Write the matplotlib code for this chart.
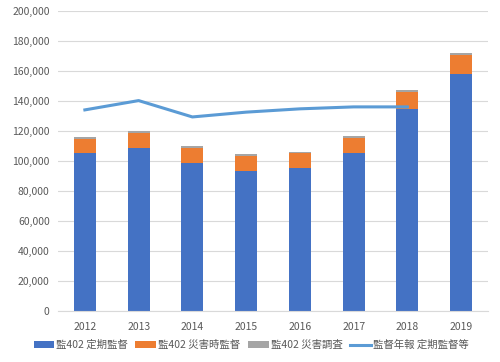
import matplotlib
matplotlib.use("Agg")
import matplotlib.pyplot as plt
import numpy as np

plt.rcParams['font.family'] = ['Noto Sans CJK JP', 'DejaVu Sans']

years = ['2012', '2013', '2014', '2015', '2016', '2017', '2018', '2019']
teiki = [105000, 108500, 98500, 93500, 95300, 105000, 134500, 158200]
saigai_ji = [9500, 10200, 10000, 9500, 9800, 10500, 11500, 12200]
saigai_chosa = [1500, 1300, 1500, 1500, 1100, 1400, 1500, 1400]
nenpo = [134000, 140200, 129300, 132500, 134700, 136000, 136000, None]

fig = plt.figure(figsize=(5.0, 3.62), dpi=100)
ax = fig.add_axes([0.116, 0.141, 0.86, 0.829])

x = np.arange(len(years))
w = 0.41
t = np.array(teiki)
s1 = np.array(saigai_ji)
s2 = np.array(saigai_chosa)
h1 = ax.bar(x, t, w, color='#4472C4', label='監402 定期監督', zorder=2)
h2 = ax.bar(x, s1, w, bottom=t, color='#ED7D31', label='監402 災害時監督', zorder=2)
h3 = ax.bar(x, s2, w, bottom=t + s1, color='#A5A5A5', label='監402 災害調査', zorder=2)
lx = [i for i, v in enumerate(nenpo) if v is not None]
ly = [v for v in nenpo if v is not None]
h4, = ax.plot(lx, ly, color='#5B9BD5', lw=2.2, label='監督年報 定期監督等', zorder=3)

ax.set_xlim(-0.5, len(years) - 0.5)
ax.set_ylim(0, 200000)
ax.set_yticks(np.arange(0, 200001, 20000))
ax.set_yticklabels([f'{v:,}' for v in range(0, 200001, 20000)])
ax.set_xticks(x)
ax.set_xticklabels(years)
ax.yaxis.grid(True, color='#D9D9D9', lw=0.8, zorder=0)
ax.set_axisbelow(True)
for sp in ['top', 'right', 'left']:
    ax.spines[sp].set_visible(False)
ax.spines['bottom'].set_color('#D9D9D9')
ax.tick_params(axis='both', length=0, colors='#595959', labelsize=7.5)
ax.tick_params(axis='x', pad=8)
ax.tick_params(axis='y', pad=6)

handles = [h1, h2, h3, h4]
labels = [h.get_label() for h in handles]
leg = fig.legend(handles, labels, loc='center', bbox_to_anchor=(0.502, 0.047), ncol=4, frameon=False,
                 fontsize=7.5, handlelength=2.0, handleheight=0.6, handletextpad=0.2, columnspacing=0.7)
for txt in leg.get_texts():
    txt.set_color('#595959')

fig.savefig('out.png', dpi=100)
